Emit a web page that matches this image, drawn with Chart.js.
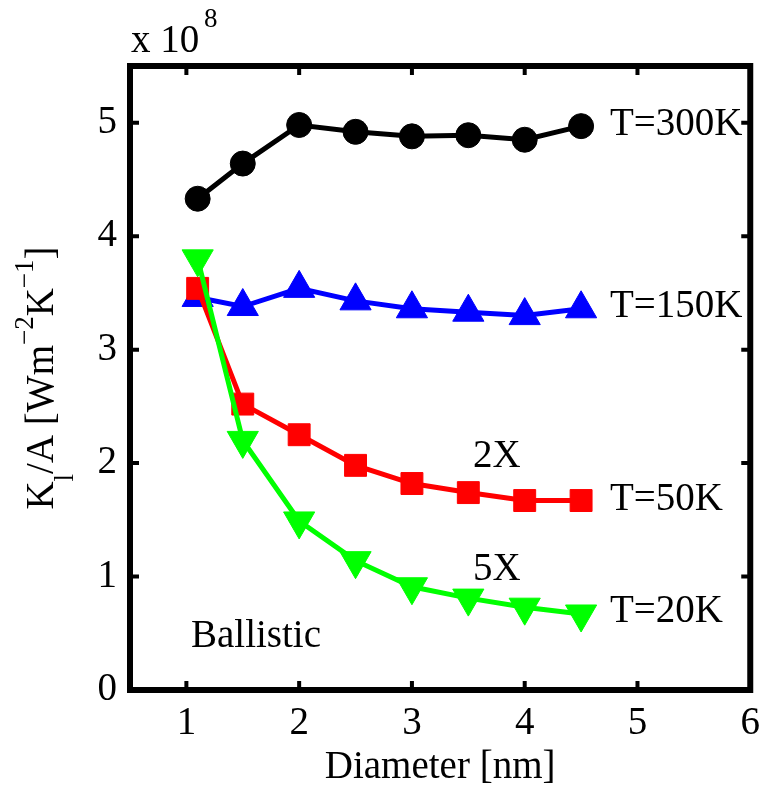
<!DOCTYPE html>
<html>
<head>
<meta charset="utf-8">
<script src="https://cdn.jsdelivr.net/npm/chart.js@4"></script>
<style>
  body { margin: 0; background: #fff; }
  canvas { display: block; }
</style>
</head>
<body>
<canvas id="chart" width="770" height="796"></canvas>
<script>
// diameters [nm]
var diameters = [1.1, 1.5, 2, 2.5, 3, 3.5, 4, 4.5];
// K/A in units of 1e8 W m^-2 K^-1
var t300 = [4.33, 4.64, 4.98, 4.92, 4.88, 4.89, 4.85, 4.97];
var t150 = [3.46, 3.38, 3.54, 3.43, 3.36, 3.33, 3.30, 3.36];
var t50 = [3.54, 2.52, 2.25, 1.98, 1.82, 1.74, 1.67, 1.67];
var t20 = [3.80, 2.20, 1.49, 1.14, 0.91, 0.81, 0.73, 0.67];
var xTicks = [1, 2, 3, 4, 5, 6];
var yTicks = [0, 1, 2, 3, 4, 5];

var serif = "'Liberation Serif', 'Times New Roman', serif";
Chart.defaults.font.family = serif;
Chart.defaults.color = '#000';

function pts(vals) {
    return vals.map(function(v, i) {
        return {x: diameters[i], y: v};
    });
}

// text drawn on top: ticks, box, series names, titles
var overlay = {
    id: 'overlay',
    afterDraw: function(chart) {
        var ctx = chart.ctx;
        var a = chart.chartArea;
        var xs = chart.scales.x;
        var ys = chart.scales.y;
        ctx.save();
        ctx.strokeStyle = '#000';
        ctx.fillStyle = '#000';

        // inward ticks on all sides
        ctx.lineWidth = 4;
        ctx.beginPath();
        xTicks.forEach(function(v) {
            var px = xs.getPixelForValue(v);
            ctx.moveTo(px, a.bottom); ctx.lineTo(px, a.bottom - 9);
            ctx.moveTo(px, a.top); ctx.lineTo(px, a.top + 9);
        });
        yTicks.forEach(function(v) {
            var py = ys.getPixelForValue(v);
            ctx.moveTo(a.left, py); ctx.lineTo(a.left + 9, py);
            ctx.moveTo(a.right, py); ctx.lineTo(a.right - 9, py);
        });
        ctx.stroke();

        ctx.lineWidth = 6;
        ctx.strokeRect(a.left, a.top, a.right - a.left, a.bottom - a.top);

        // series names and notes
        ctx.font = '39px ' + serif;
        ctx.textAlign = 'left';
        ctx.textBaseline = 'alphabetic';
        ctx.fillText('T=300K', 610, 135);
        ctx.fillText('T=150K', 610, 317);
        ctx.fillText('T=50K', 610, 510);
        ctx.fillText('T=20K', 610, 622);
        ctx.fillText('2X', 473, 467);
        ctx.fillText('5X', 473, 580);
        ctx.fillText('Ballistic', 191, 647);

        // exponent
        ctx.fillText('x 10', 131, 52);
        ctx.font = '27px ' + serif;
        ctx.fillText('8', 204, 27);

        // x title
        ctx.font = '39px ' + serif;
        ctx.textAlign = 'center';
        ctx.fillText('Diameter [nm]', (a.left + a.right) / 2, 778);

        // y title, rotated, with sub/superscripts
        var parts = [
            {t: 'K', size: 39, dy: 0},
            {t: 'l', size: 27, dy: 20},
            {t: '/A [Wm', size: 39, dy: 0},
            {t: '\u22122', size: 27, dy: -20},
            {t: 'K', size: 39, dy: 0},
            {t: '\u22121', size: 27, dy: -20},
            {t: ']', size: 39, dy: 0}
        ];
        var total = 0;
        parts.forEach(function(p) {
            ctx.font = p.size + 'px ' + serif;
            p.w = ctx.measureText(p.t).width;
            total += p.w;
        });
        ctx.translate(53, (a.top + a.bottom) / 2);
        ctx.rotate(-Math.PI / 2);
        ctx.textAlign = 'left';
        var cx = -total / 2;
        parts.forEach(function(p) {
            ctx.font = p.size + 'px ' + serif;
            ctx.fillText(p.t, cx, p.dy);
            cx += p.w;
        });
        ctx.restore();
    }
};

var chart = new Chart(document.getElementById('chart'), {
    type: 'line',
    data: {
        datasets: [{
            label: 'T=20K',
            data: pts(t20),
            borderColor: '#00ff00',
            backgroundColor: '#00ff00',
            pointStyle: 'triangle',
            pointRotation: 180,
            pointRadius: 18
        }, {
            label: 'T=50K',
            data: pts(t50),
            borderColor: '#ff0000',
            backgroundColor: '#ff0000',
            pointStyle: 'rect',
            pointRadius: 15.5
        }, {
            label: 'T=150K',
            data: pts(t150),
            borderColor: '#0000ff',
            backgroundColor: '#0000ff',
            pointStyle: 'triangle',
            pointRadius: 18
        }, {
            label: 'T=300K',
            data: pts(t300),
            borderColor: '#000000',
            backgroundColor: '#000000',
            pointStyle: 'circle',
            pointRadius: 12.5
        }]
    },
    options: {
        responsive: false,
        animation: false,
        layout: {padding: {top: 66, right: 15, left: 0, bottom: 0}},
        elements: {
            line: {borderWidth: 5, tension: 0},
            point: {borderWidth: 1, hoverRadius: 12}
        },
        plugins: {
            legend: {display: false},
            tooltip: {enabled: false}
        },
        scales: {
            x: {
                type: 'linear',
                min: 0.5,
                max: 6,
                grid: {display: false, drawTicks: false},
                border: {display: false},
                ticks: {font: {size: 39}, padding: 10},
                afterBuildTicks: function(s) {
                    s.ticks = xTicks.map(function(v) { return {value: v}; });
                },
                afterFit: function(s) { s.height = 106; }
            },
            y: {
                type: 'linear',
                min: 0,
                max: 5.5,
                grid: {display: false, drawTicks: false},
                border: {display: false},
                ticks: {font: {size: 39}, padding: 13},
                afterBuildTicks: function(s) {
                    s.ticks = yTicks.map(function(v) { return {value: v}; });
                },
                afterFit: function(s) { s.width = 130; }
            }
        }
    },
    plugins: [overlay]
});
</script>
</body>
</html>
